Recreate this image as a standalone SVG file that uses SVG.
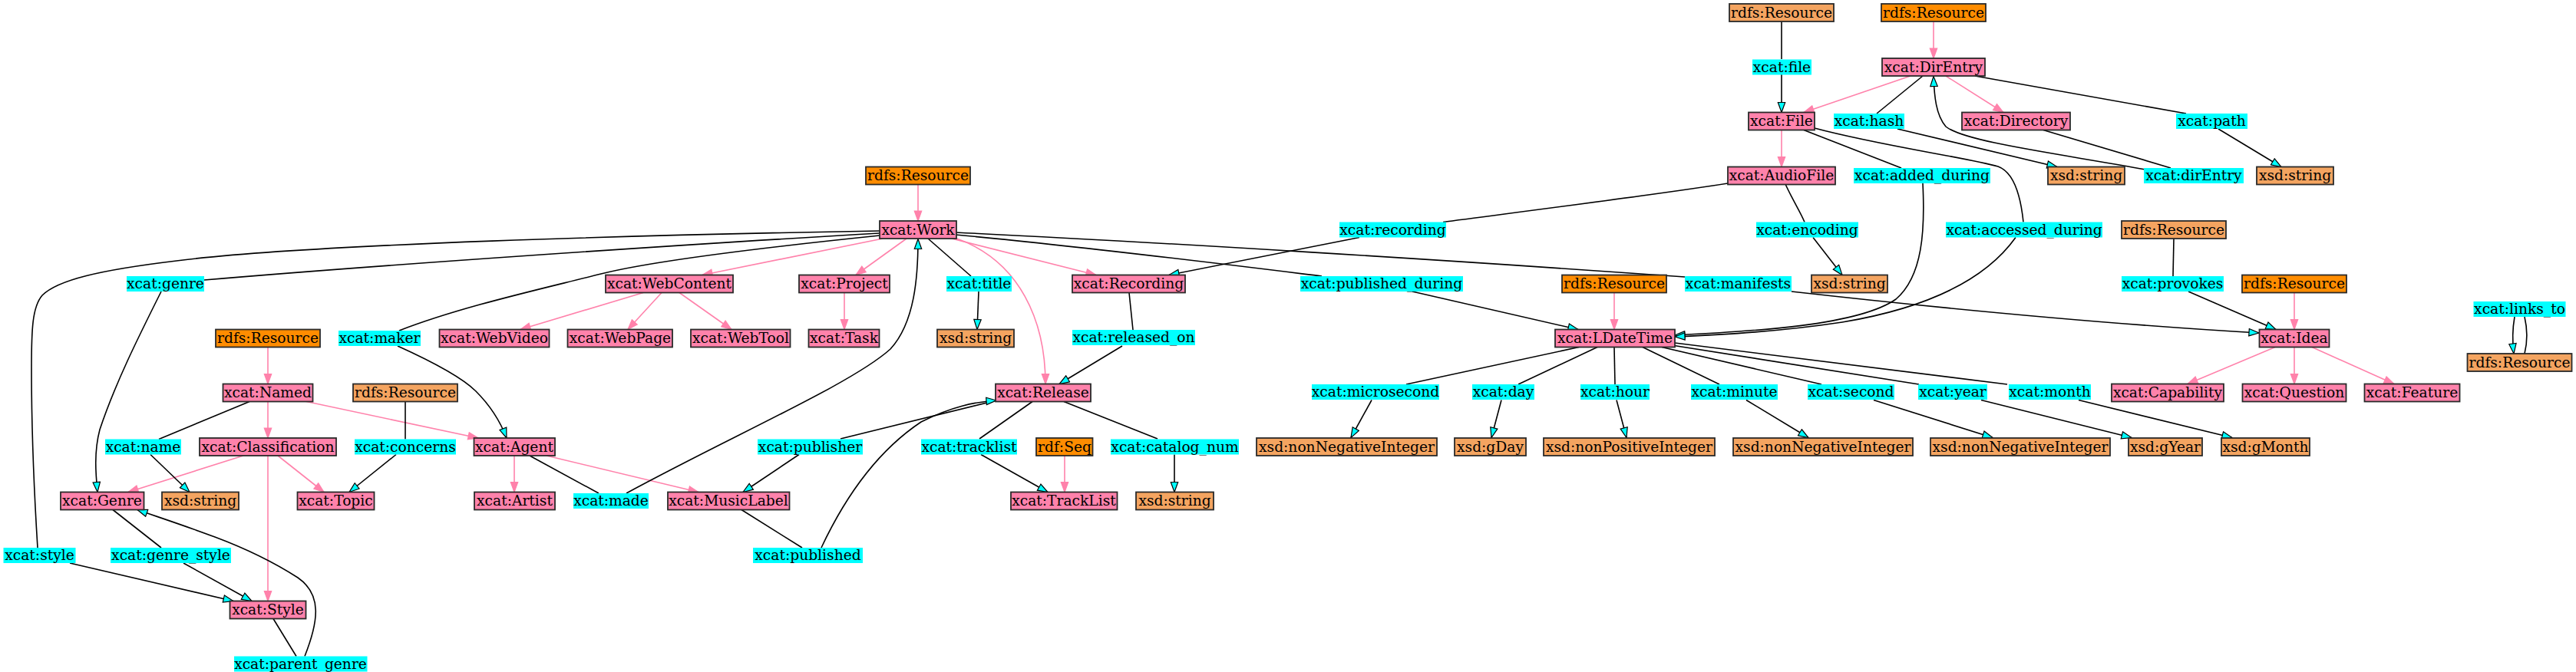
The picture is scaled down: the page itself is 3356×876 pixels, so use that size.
<svg xmlns="http://www.w3.org/2000/svg" width="3356" height="876" viewBox="0 0 3356 876">
<style>
text{font-family:"DejaVu Serif","Liberation Serif",serif;font-size:18.67px;text-anchor:middle;fill:#000}
.k{fill:#FF82AB;stroke:#2a2a2a;stroke-width:1.8}
.o{fill:#FF8C00;stroke:#2a2a2a;stroke-width:1.8}
.s{fill:#F4A460;stroke:#2a2a2a;stroke-width:1.8}
.p{fill:#00FFFF;stroke:none}
.e{fill:none;stroke:#000;stroke-width:1.6}
.a{fill:none;stroke:#000;stroke-width:1.6;marker-end:url(#ca)}
.u{fill:none;stroke:#FF82AB;stroke-width:1.6;marker-end:url(#pa)}
</style>
<defs>
<marker id="ca" markerUnits="userSpaceOnUse" viewBox="-1 -1 15 11.4" markerWidth="15" markerHeight="11.4" refX="13" refY="4.7" orient="auto"><path d="M0,0 L13,4.7 L0,9.4 Z" fill="#00FFFF" stroke="#000" stroke-width="1.2"/></marker>
<marker id="pa" markerUnits="userSpaceOnUse" viewBox="-1 -1 15 11.4" markerWidth="15" markerHeight="11.4" refX="13" refY="4.7" orient="auto"><path d="M0,0 L13,4.7 L0,9.4 Z" fill="#FF82AB" stroke="#FF82AB" stroke-width="1.2"/></marker>
</defs>
<rect x="0" y="0" width="3356" height="876" fill="#fff"/>
<g id="connectors">
<path class="u" d="M2519,28 L2519,76"/>
<path class="u" d="M2489,99 L2350,146.5"/>
<path class="u" d="M2535,99 L2610,146.5"/>
<path class="u" d="M2321,169.5 L2321,217.5"/>
<path class="u" d="M1196,240.5 L1196,288"/>
<path class="u" d="M1150,311 L915,358.5"/>
<path class="u" d="M1181,311 L1115,358.5"/>
<path class="u" d="M1240,311 L1428,358.5"/>
<path class="u" d="M1244,310 C1330,340 1362,420 1362,500.5"/>
<path class="u" d="M838,381.5 L678,429.5"/>
<path class="u" d="M862,381.5 L818,429.5"/>
<path class="u" d="M885,381.5 L953,429.5"/>
<path class="u" d="M1100,381.5 L1100,429.5"/>
<path class="u" d="M349,452.5 L349,500.5"/>
<path class="u" d="M349,523.5 L349,571"/>
<path class="u" d="M397,523 L623,571"/>
<path class="u" d="M317,594 L167,641.5"/>
<path class="u" d="M362,594 L422,641.5"/>
<path class="u" d="M349,594 L349,783.5"/>
<path class="u" d="M670,594 L670,641.5"/>
<path class="u" d="M712,594 L910,641.5"/>
<path class="u" d="M1387,594 L1387,641.5"/>
<path class="u" d="M2103,381.5 L2103,429.5"/>
<path class="u" d="M2989,381.5 L2989,429.5"/>
<path class="u" d="M2964,452.5 L2850,500.5"/>
<path class="u" d="M2989,452.5 L2989,500.5"/>
<path class="u" d="M3012,452.5 L3119,500.5"/>
<path class="e" d="M2321,28 L2321,77"/>
<path class="a" d="M2321,97 L2321,146.5"/>
<path class="e" d="M2505,99 L2445,148"/>
<path class="a" d="M2472,168 L2680,217.5"/>
<path class="e" d="M2573,99 L2848,148"/>
<path class="a" d="M2890,168 L2972,217.5"/>
<path class="e" d="M2662,169.5 L2828,219"/>
<path class="a" d="M2795,221 C2680,200 2560,185 2535,165 C2522,150 2520,125 2519,99.5"/>
<path class="e" d="M2350,169.5 L2477,219"/>
<path class="a" d="M2505,239 C2508,300 2505,360 2470,390 C2420,425 2280,432 2182,437"/>
<path class="e" d="M2364,167 C2450,190 2560,205 2603,217 C2625,225 2633,260 2636,289.5"/>
<path class="a" d="M2626,309.5 C2590,360 2520,400 2400,420 C2320,432 2250,436 2182,439"/>
<path class="e" d="M2251,239 C2150,255 1950,280 1880,289.5"/>
<path class="a" d="M1771,309.5 L1523,358.5"/>
<path class="e" d="M2326,240 C2335,260 2345,275 2351,289.5"/>
<path class="a" d="M2362,309.5 L2400,358.5"/>
<path class="e" d="M1146,304 C900,318 500,345 266,365"/>
<path class="e" d="M1146,301 C850,306 400,318 230,340 C130,352 75,365 55,385 C42,400 41,430 41,480 C41,560 45,650 49,714"/>
<path class="a" d="M91,734 L304,783.5"/>
<path class="e" d="M1146,307 C1000,322 850,340 783,357 C700,378 600,400 520,431"/>
<path class="a" d="M518,451 C560,470 600,490 620,510 C640,530 652,550 660,571"/>
<path class="e" d="M1209,311 L1265,360"/>
<path class="a" d="M1275,380 L1273,429.5"/>
<path class="e" d="M1245,306 C1400,320 1600,345 1722,360"/>
<path class="a" d="M1840,380 L2056,429.5"/>
<path class="e" d="M1245,303 C1500,315 1900,340 2195,361"/>
<path class="a" d="M2334,380 C2450,393 2700,420 2943,434"/>
<path class="e" d="M1471,381.5 L1476,430"/>
<path class="a" d="M1462,451 L1380,500.5"/>
<path class="e" d="M1345,523.5 L1276,572"/>
<path class="a" d="M1278,592.5 L1365,641.5"/>
<path class="e" d="M1386,523.5 L1508,572"/>
<path class="a" d="M1530,592.5 L1530,641.5"/>
<path class="e" d="M1298,522 L1095,572"/>
<path class="a" d="M1041,592.5 L968,641.5"/>
<path class="e" d="M966,664.5 L1045,714"/>
<path class="a" d="M1070,714 C1100,650 1140,590 1200,550 C1240,530 1270,524 1298,522"/>
<path class="a" d="M816,643 C960,565 1110,500 1160,455 C1192,420 1196,360 1196,311.5"/>
<path class="e" d="M690,594 L780,643"/>
<path class="e" d="M325,523.5 L207,572.5"/>
<path class="a" d="M196,592.5 L247,641.5"/>
<path class="e" d="M528,523.5 L528,572.5"/>
<path class="a" d="M516,592.5 L455,641.5"/>
<path class="a" d="M210,380 C180,440 150,500 130,560 C122,590 125,620 127,641.5"/>
<path class="e" d="M147,664.5 L210,714"/>
<path class="a" d="M239,734 L328,783.5"/>
<path class="e" d="M356,806.5 L386,855.5"/>
<path class="a" d="M397,855.5 C415,810 420,775 388,753 C360,735 320,715 280,700 C240,685 200,672 179,664.5"/>
<path class="e" d="M2057,452.5 L1832,501"/>
<path class="e" d="M2081,452.5 L1978,501"/>
<path class="e" d="M2103,452.5 L2104,501"/>
<path class="e" d="M2140,452.5 L2240,501"/>
<path class="e" d="M2165,452.5 L2373,501"/>
<path class="e" d="M2178,450 L2500,501"/>
<path class="e" d="M2182,447 L2615,501"/>
<path class="a" d="M1787,521.5 L1760,570.5"/>
<path class="a" d="M1956,521.5 L1943,570.5"/>
<path class="a" d="M2106,521.5 L2119,570.5"/>
<path class="a" d="M2275,521.5 L2356,570.5"/>
<path class="a" d="M2441,521.5 L2596,570.5"/>
<path class="a" d="M2581,521.5 L2777,570.5"/>
<path class="a" d="M2708,521.5 L2908,570.5"/>
<path class="e" d="M2832,311 L2831,360"/>
<path class="a" d="M2851,380 L2965,429.5"/>
<path class="a" d="M3276,413 C3273,430 3273,445 3275,461"/>
<path class="e" d="M3289,461 C3293,445 3293,430 3289,413"/>
</g>
<g id="n_res1"><rect class="s" x="2253" y="5" width="136" height="23"/><text x="2321" y="22.5">rdfs:Resource</text></g>
<g id="n_res2"><rect class="o" x="2451" y="5" width="136" height="23"/><text x="2519" y="22.5">rdfs:Resource</text></g>
<g id="n_p_file"><rect class="p" x="2283" y="77.5" width="77" height="20"/><text x="2321.5" y="93.5">xcat:file</text></g>
<g id="n_direntry"><rect class="k" x="2452" y="76" width="134" height="23"/><text x="2519" y="93.5">xcat:DirEntry</text></g>
<g id="n_file"><rect class="k" x="2278" y="146.5" width="86" height="23"/><text x="2321" y="164">xcat:File</text></g>
<g id="n_p_hash"><rect class="p" x="2389" y="148" width="92" height="20"/><text x="2435" y="164">xcat:hash</text></g>
<g id="n_directory"><rect class="k" x="2556" y="146.5" width="141" height="23"/><text x="2626.5" y="164">xcat:Directory</text></g>
<g id="n_p_path"><rect class="p" x="2835" y="148" width="93" height="20"/><text x="2881.5" y="164">xcat:path</text></g>
<g id="n_res3"><rect class="o" x="1128" y="217.5" width="136" height="23"/><text x="1196" y="235">rdfs:Resource</text></g>
<g id="n_audiofile"><rect class="k" x="2251" y="217.5" width="140" height="23"/><text x="2321" y="235">xcat:AudioFile</text></g>
<g id="n_p_added"><rect class="p" x="2415" y="219" width="178" height="20"/><text x="2504" y="235">xcat:added_during</text></g>
<g id="n_str_hash"><rect class="s" x="2668" y="217.5" width="100" height="23"/><text x="2718" y="235">xsd:string</text></g>
<g id="n_p_dirent"><rect class="p" x="2793" y="219" width="130" height="20"/><text x="2858" y="235">xcat:dirEntry</text></g>
<g id="n_str_path"><rect class="s" x="2940" y="217.5" width="100" height="23"/><text x="2990" y="235">xsd:string</text></g>
<g id="n_work"><rect class="k" x="1146" y="288" width="100" height="23"/><text x="1196" y="305.5">xcat:Work</text></g>
<g id="n_p_recording"><rect class="p" x="1745" y="289.5" width="139" height="20"/><text x="1814.5" y="305.5">xcat:recording</text></g>
<g id="n_p_encoding"><rect class="p" x="2288" y="289.5" width="133" height="20"/><text x="2354.5" y="305.5">xcat:encoding</text></g>
<g id="n_p_accessed"><rect class="p" x="2535" y="289.5" width="204" height="20"/><text x="2637" y="305.5">xcat:accessed_during</text></g>
<g id="n_res4"><rect class="s" x="2764" y="288" width="136" height="23"/><text x="2832" y="305.5">rdfs:Resource</text></g>
<g id="n_p_genre"><rect class="p" x="165" y="360" width="101" height="20"/><text x="215.5" y="376">xcat:genre</text></g>
<g id="n_webcontent"><rect class="k" x="789" y="358.5" width="166" height="23"/><text x="872" y="376">xcat:WebContent</text></g>
<g id="n_project"><rect class="k" x="1041" y="358.5" width="118" height="23"/><text x="1100" y="376">xcat:Project</text></g>
<g id="n_p_title"><rect class="p" x="1233" y="360" width="85" height="20"/><text x="1275.5" y="376">xcat:title</text></g>
<g id="n_recording"><rect class="k" x="1397" y="358.5" width="147" height="23"/><text x="1470.5" y="376">xcat:Recording</text></g>
<g id="n_p_pubdur"><rect class="p" x="1694" y="360" width="212" height="20"/><text x="1800" y="376">xcat:published_during</text></g>
<g id="n_res5"><rect class="o" x="2035" y="358.5" width="136" height="23"/><text x="2103" y="376">rdfs:Resource</text></g>
<g id="n_p_manifests"><rect class="p" x="2195" y="360" width="139" height="20"/><text x="2264.5" y="376">xcat:manifests</text></g>
<g id="n_str_enc"><rect class="s" x="2360" y="358.5" width="99" height="23"/><text x="2409.5" y="376">xsd:string</text></g>
<g id="n_p_provokes"><rect class="p" x="2764" y="360" width="133" height="20"/><text x="2830.5" y="376">xcat:provokes</text></g>
<g id="n_res6"><rect class="o" x="2921" y="358.5" width="136" height="23"/><text x="2989" y="376">rdfs:Resource</text></g>
<g id="n_res7"><rect class="o" x="281" y="429.5" width="136" height="23"/><text x="349" y="447">rdfs:Resource</text></g>
<g id="n_p_maker"><rect class="p" x="441" y="431" width="107" height="20"/><text x="494.5" y="447">xcat:maker</text></g>
<g id="n_webvideo"><rect class="k" x="572.5" y="429.5" width="143" height="23"/><text x="644" y="447">xcat:WebVideo</text></g>
<g id="n_webpage"><rect class="k" x="739.5" y="429.5" width="136.5" height="23"/><text x="808" y="447">xcat:WebPage</text></g>
<g id="n_webtool"><rect class="k" x="900" y="429.5" width="129.5" height="23"/><text x="965" y="447">xcat:WebTool</text></g>
<g id="n_task"><rect class="k" x="1053.5" y="429.5" width="92" height="23"/><text x="1099.5" y="447">xcat:Task</text></g>
<g id="n_str_title"><rect class="s" x="1221" y="429.5" width="100" height="23"/><text x="1271" y="447">xsd:string</text></g>
<g id="n_p_released"><rect class="p" x="1397" y="430" width="160" height="20"/><text x="1477" y="446">xcat:released_on</text></g>
<g id="n_ldatetime"><rect class="k" x="2026" y="429.5" width="156" height="23"/><text x="2104" y="447">xcat:LDateTime</text></g>
<g id="n_idea"><rect class="k" x="2943.5" y="429.5" width="91" height="23"/><text x="2989" y="447">xcat:Idea</text></g>
<g id="n_named"><rect class="k" x="290.5" y="500.5" width="117" height="23"/><text x="349" y="518">xcat:Named</text></g>
<g id="n_res8"><rect class="s" x="460" y="500.5" width="136" height="23"/><text x="528" y="518">rdfs:Resource</text></g>
<g id="n_release"><rect class="k" x="1297" y="500.5" width="124" height="23"/><text x="1359" y="518">xcat:Release</text></g>
<g id="n_p_micro"><rect class="p" x="1709" y="501" width="166" height="20"/><text x="1792" y="517">xcat:microsecond</text></g>
<g id="n_p_day"><rect class="p" x="1918" y="501" width="81" height="20"/><text x="1958.5" y="517">xcat:day</text></g>
<g id="n_p_hour"><rect class="p" x="2059" y="501" width="90" height="20"/><text x="2104" y="517">xcat:hour</text></g>
<g id="n_p_minute"><rect class="p" x="2203" y="501" width="113" height="20"/><text x="2259.5" y="517">xcat:minute</text></g>
<g id="n_p_second"><rect class="p" x="2355" y="501" width="113" height="20"/><text x="2411.5" y="517">xcat:second</text></g>
<g id="n_p_year"><rect class="p" x="2499" y="501" width="90" height="20"/><text x="2544" y="517">xcat:year</text></g>
<g id="n_p_month"><rect class="p" x="2617" y="501" width="107" height="20"/><text x="2670.5" y="517">xcat:month</text></g>
<g id="n_capability"><rect class="k" x="2751" y="500.5" width="146" height="23"/><text x="2824" y="518">xcat:Capability</text></g>
<g id="n_question"><rect class="k" x="2921.5" y="500.5" width="135" height="23"/><text x="2989" y="518">xcat:Question</text></g>
<g id="n_feature"><rect class="k" x="3080.5" y="500.5" width="124" height="23"/><text x="3142.5" y="518">xcat:Feature</text></g>
<g id="n_p_name"><rect class="p" x="137" y="572.5" width="99" height="20"/><text x="186.5" y="588.5">xcat:name</text></g>
<g id="n_classification"><rect class="k" x="260" y="571" width="178" height="23"/><text x="349" y="588.5">xcat:Classification</text></g>
<g id="n_p_concerns"><rect class="p" x="462" y="572.5" width="132" height="20"/><text x="528" y="588.5">xcat:concerns</text></g>
<g id="n_agent"><rect class="k" x="617.5" y="571" width="105.5" height="23"/><text x="670" y="588.5">xcat:Agent</text></g>
<g id="n_p_publisher"><rect class="p" x="987" y="572.5" width="137" height="20"/><text x="1055.5" y="588.5">xcat:publisher</text></g>
<g id="n_p_tracklist"><rect class="p" x="1200" y="572.5" width="125" height="20"/><text x="1262.5" y="588.5">xcat:tracklist</text></g>
<g id="n_seq"><rect class="o" x="1350" y="571" width="73.5" height="23"/><text x="1387" y="588.5">rdf:Seq</text></g>
<g id="n_p_catalog"><rect class="p" x="1447" y="572.5" width="167" height="20"/><text x="1530.5" y="588.5">xcat:catalog_num</text></g>
<g id="n_nni1"><rect class="s" x="1637" y="571" width="235" height="23"/><text x="1754.5" y="588.5">xsd:nonNegativeInteger</text></g>
<g id="n_gday"><rect class="s" x="1895" y="571" width="93" height="23"/><text x="1941.5" y="588.5">xsd:gDay</text></g>
<g id="n_npi"><rect class="s" x="2011" y="571" width="223" height="23"/><text x="2122.5" y="588.5">xsd:nonPositiveInteger</text></g>
<g id="n_nni2"><rect class="s" x="2258" y="571" width="234" height="23"/><text x="2375" y="588.5">xsd:nonNegativeInteger</text></g>
<g id="n_nni3"><rect class="s" x="2515" y="571" width="234" height="23"/><text x="2632" y="588.5">xsd:nonNegativeInteger</text></g>
<g id="n_gyear"><rect class="s" x="2773" y="571" width="96" height="23"/><text x="2821" y="588.5">xsd:gYear</text></g>
<g id="n_gmonth"><rect class="s" x="2894" y="571" width="115" height="23"/><text x="2951.5" y="588.5">xsd:gMonth</text></g>
<g id="n_genre"><rect class="k" x="79" y="641.5" width="108.5" height="23"/><text x="133" y="659">xcat:Genre</text></g>
<g id="n_str_name"><rect class="s" x="211" y="641.5" width="100" height="23"/><text x="261" y="659">xsd:string</text></g>
<g id="n_topic"><rect class="k" x="387.5" y="641.5" width="100" height="23"/><text x="437.5" y="659">xcat:Topic</text></g>
<g id="n_artist"><rect class="k" x="618" y="641.5" width="105" height="23"/><text x="670.5" y="659">xcat:Artist</text></g>
<g id="n_p_made"><rect class="p" x="747" y="643" width="98" height="20"/><text x="796" y="659">xcat:made</text></g>
<g id="n_musiclabel"><rect class="k" x="870" y="641.5" width="158.5" height="23"/><text x="949" y="659">xcat:MusicLabel</text></g>
<g id="n_tracklist"><rect class="k" x="1317" y="641.5" width="138.5" height="23"/><text x="1386" y="659">xcat:TrackList</text></g>
<g id="n_str_cat"><rect class="s" x="1480" y="641.5" width="101" height="23"/><text x="1530.5" y="659">xsd:string</text></g>
<g id="n_p_style"><rect class="p" x="4.5" y="714" width="94" height="20"/><text x="51.5" y="730">xcat:style</text></g>
<g id="n_p_genrestyle"><rect class="p" x="144" y="714" width="157" height="20"/><text x="222.5" y="730">xcat:genre_style</text></g>
<g id="n_p_published"><rect class="p" x="981" y="714" width="143" height="20"/><text x="1052.5" y="730">xcat:published</text></g>
<g id="n_style"><rect class="k" x="299.5" y="783.5" width="99" height="23"/><text x="349" y="801">xcat:Style</text></g>
<g id="n_p_parentgenre"><rect class="p" x="305" y="855.5" width="173.5" height="20"/><text x="391.5" y="871.5">xcat:parent_genre</text></g>
<g id="n_p_linksto"><rect class="p" x="3222.5" y="393" width="120" height="20"/><text x="3282.5" y="409">xcat:links_to</text></g>
<g id="n_res9"><rect class="s" x="3214.5" y="461" width="136" height="23"/><text x="3282.5" y="478.5">rdfs:Resource</text></g>
</svg>
